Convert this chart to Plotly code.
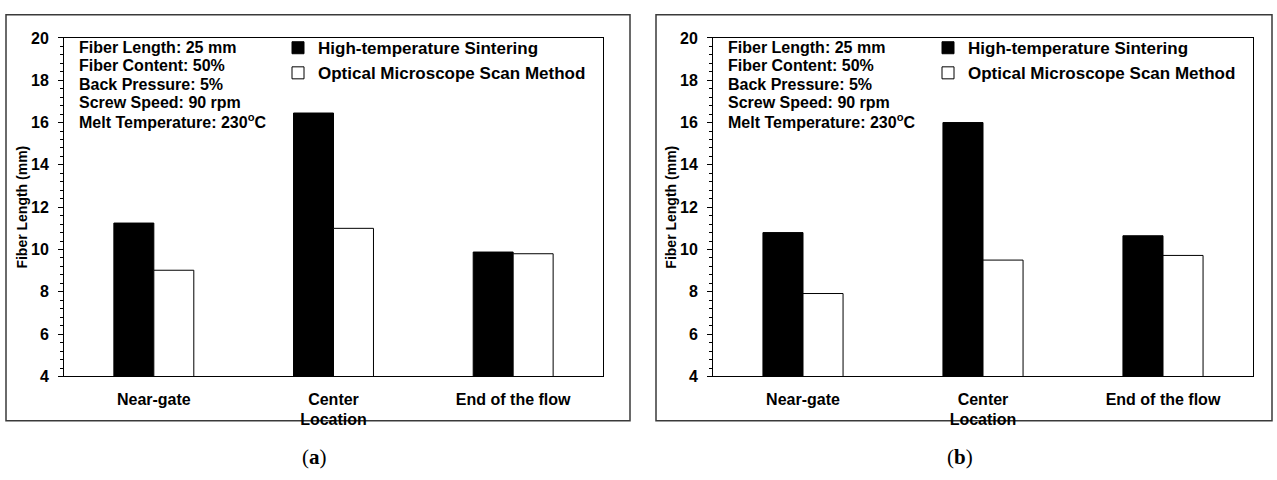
import plotly.graph_objects as go

categories = ["Near-gate", "Center<br>Location", "End of the flow"]
series_names = ["High-temperature Sintering", "Optical Microscope Scan Method"]
a_sintering = [11.25, 16.45, 9.88]
a_optical = [9.02, 11.0, 9.80]
b_sintering = [10.8, 16.0, 10.65]
b_optical = [7.92, 9.5, 9.72]
y_ticks = [4, 6, 8, 10, 12, 14, 16, 18, 20]
info_lines = ["Fiber Length: 25 mm", "Fiber Content: 50%", "Back Pressure: 5%",
              "Screw Speed: 90 rpm", "Melt Temperature: 230<sup>o</sup>C"]
panel_labels = ["(<b>a</b>)", "(<b>b</b>)"]

W, H = 1277, 480
FONT = "Liberation Sans, Arial, sans-serif"

def px(v):
    return v / W

def py(v):
    return 1 - v / H

def bfont(size):
    return dict(family=FONT, size=size, color="black", weight="bold")

fig = go.Figure()

panels = [
    dict(sint=a_sintering, opt=a_optical, xa="x", ya="y", leg="legend",
         dom=(64, 603), box=(6, 630)),
    dict(sint=b_sintering, opt=b_optical, xa="x2", ya="y2", leg="legend2",
         dom=(713, 1253), box=(656, 1272)),
]

for p in panels:
    fig.add_trace(go.Bar(x=categories, y=p["sint"], name=series_names[0],
                         marker=dict(color="black", line=dict(color="black", width=1)),
                         xaxis=p["xa"], yaxis=p["ya"], legend=p["leg"]))
    fig.add_trace(go.Bar(x=categories, y=p["opt"], name=series_names[1],
                         marker=dict(color="white", line=dict(color="black", width=1)),
                         xaxis=p["xa"], yaxis=p["ya"], legend=p["leg"]))

ydom = [py(382), py(31)]
common_x = dict(showgrid=False, showline=True, linecolor="black", linewidth=1,
                mirror=True, ticks="", tickfont=bfont(16), ticklabelstandoff=8,
                fixedrange=True)
common_y = dict(range=[4, 20], tickvals=y_ticks, showgrid=False, zeroline=False,
                showline=True, linecolor="black", linewidth=1, mirror=True,
                ticks="outside", ticklen=5, tickwidth=1, tickcolor="black",
                minor=dict(dtick=0.4, ticks="outside", ticklen=3, tickcolor="black", showgrid=False),
                tickfont=bfont(16), tickprefix="<b>", ticksuffix="</b>", ticklabelstandoff=6,
                title=dict(text="<b>Fiber Length (mm)</b>", font=bfont(14), standoff=0),
                fixedrange=True)

legend_common = dict(xanchor="left", yanchor="top", bgcolor="rgba(0,0,0,0)",
                     font=bfont(17), itemwidth=30, tracegroupgap=0)

fig.update_layout(
    width=W, height=H,
    margin=dict(l=0, r=0, t=0, b=0),
    paper_bgcolor="white", plot_bgcolor="white",
    barmode="group", bargap=0.555, bargroupgap=0,
    font=dict(family=FONT, color="black"),
    xaxis=dict(domain=[px(64), px(603)], anchor="y", **common_x),
    yaxis=dict(domain=ydom, anchor="x", **common_y),
    xaxis2=dict(domain=[px(713), px(1253)], anchor="y2", **common_x),
    yaxis2=dict(domain=ydom, anchor="x2", **common_y),
    legend=dict(x=px(278), y=py(23), **legend_common),
    legend2=dict(x=px(928), y=py(23), **legend_common),
    showlegend=True,
)

for i, p in enumerate(panels):
    fig.add_shape(type="rect", xref="paper", yref="paper",
                  x0=px(p["box"][0]), x1=px(p["box"][1]), y0=py(428), y1=py(7),
                  line=dict(color="#3a3a3a", width=1.5), fillcolor="rgba(0,0,0,0)", layer="below")
    for k, line in enumerate(info_lines):
        fig.add_annotation(xref="paper", yref="paper", x=px(p["dom"][0] + 13), y=py(41 + 19 * k),
                           xanchor="left", yanchor="middle", align="left", showarrow=False,
                           text="<b>" + line + "</b>", font=bfont(16))
    mid = (p["box"][0] + p["box"][1]) / 2
    fig.add_annotation(xref="paper", yref="paper", x=px(mid - 4), y=py(465),
                       xanchor="center", yanchor="middle", showarrow=False,
                       text=panel_labels[i],
                       font=dict(family="Liberation Serif, DejaVu Serif, serif", size=21, color="black"))

fig.write_html("out.html")
